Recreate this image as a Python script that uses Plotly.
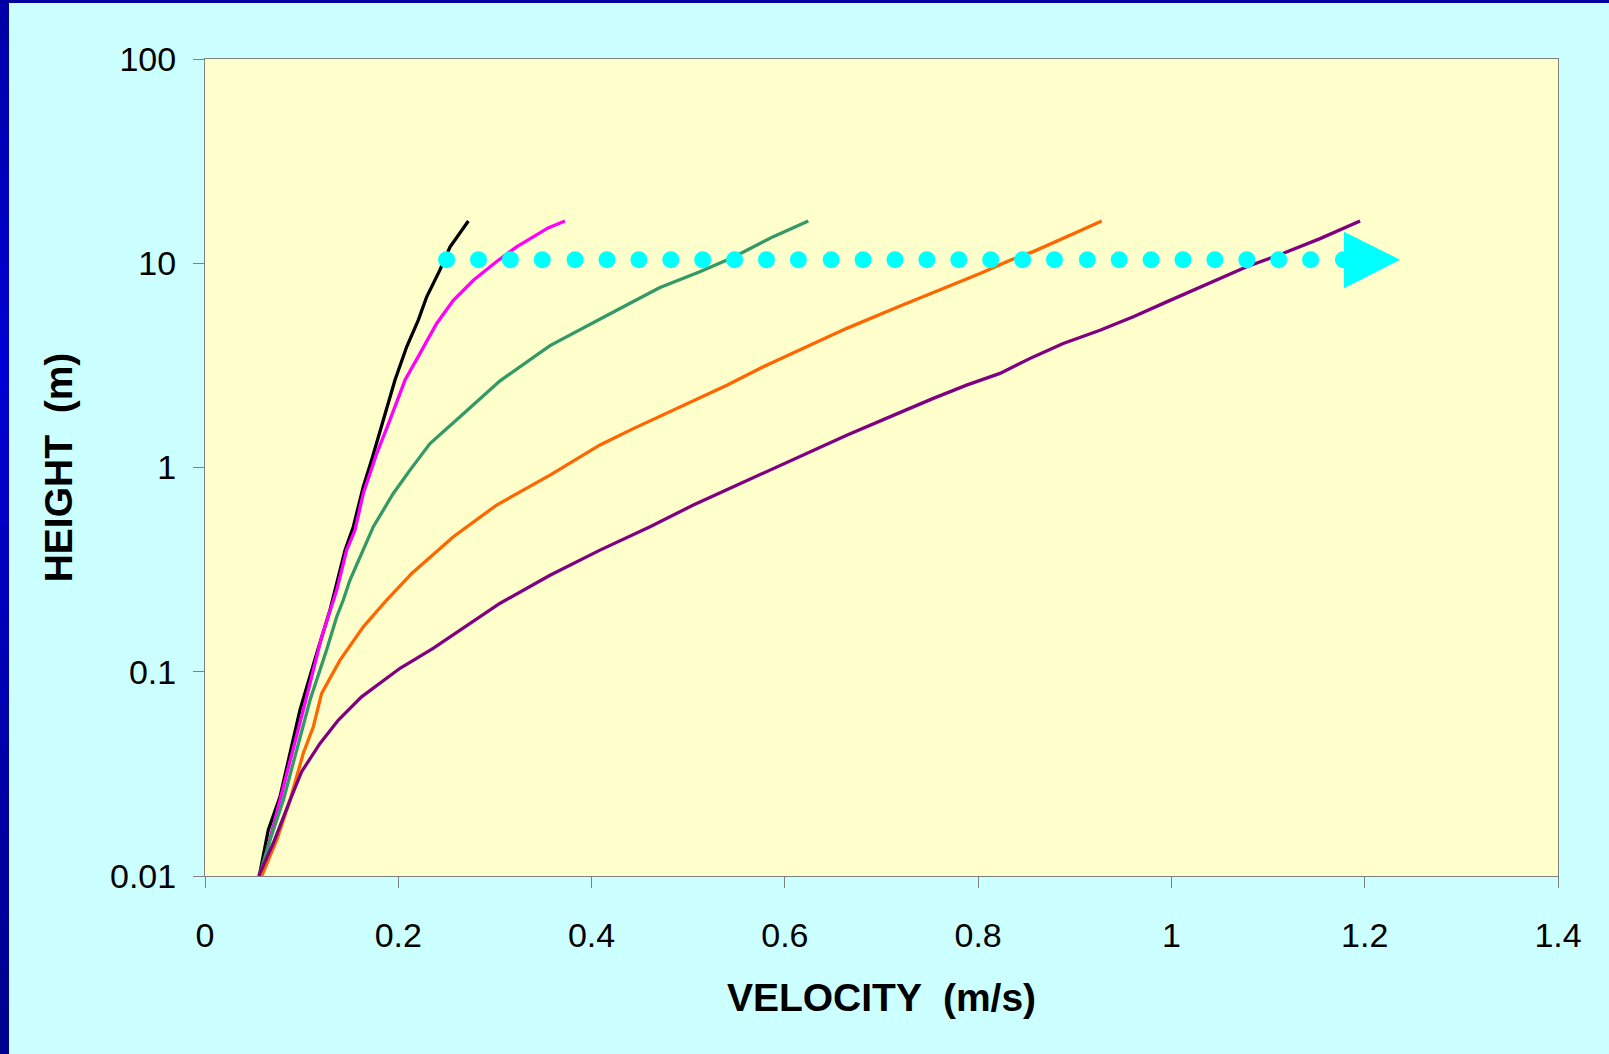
import plotly.graph_objects as go

# ---------------- data ----------------
black_v = [0.0562, 0.0655, 0.0776, 0.0983, 0.1156, 0.1293, 0.1363, 0.1449, 0.1535, 0.1638,
           0.1725, 0.1845, 0.1966, 0.2087, 0.2207, 0.2294, 0.2430, 0.2535, 0.2725]
black_h = [0.010, 0.0168, 0.0244, 0.065, 0.123, 0.200, 0.271, 0.394, 0.513, 0.805,
           1.09, 1.71, 2.68, 3.90, 5.27, 6.85, 9.25, 12.0, 16.1]

magenta_v = [0.0573, 0.0742, 0.0880, 0.1052, 0.1207, 0.1363, 0.1466, 0.1552, 0.1638, 0.1777,
             0.1914, 0.2070, 0.2225, 0.2397, 0.2570, 0.2777, 0.3018, 0.3220, 0.3550, 0.3725]
magenta_h = [0.010, 0.0203, 0.0356, 0.0755, 0.148, 0.251, 0.394, 0.494, 0.746, 1.17,
             1.71, 2.68, 3.62, 5.07, 6.59, 8.26, 10.2, 12.0, 14.9, 16.1]

green_v = [0.0562, 0.0673, 0.0810, 0.0949, 0.1087, 0.1259, 0.1363, 0.1431, 0.1500, 0.1742,
           0.1948, 0.2121, 0.2328, 0.2639, 0.3050, 0.3570, 0.3915, 0.4260, 0.4708, 0.5120,
           0.5467, 0.5880, 0.6243]
green_h = [0.010, 0.015, 0.0235, 0.0414, 0.0727, 0.128, 0.186, 0.2245, 0.281, 0.513,
           0.746, 0.971, 1.31, 1.77, 2.65, 3.95, 4.80, 5.89, 7.61, 9.08,
           10.7, 13.5, 16.1]

orange_v = [0.0587, 0.0742, 0.0880, 0.1017, 0.1121, 0.1207, 0.1397, 0.1570, 0.1638, 0.1880,
            0.2139, 0.2570, 0.3018, 0.3570, 0.4087, 0.4432, 0.4915, 0.5400, 0.5810, 0.6295,
            0.6640, 0.7193, 0.7675, 0.8020, 0.8330, 0.8570, 0.9020, 0.9278]
orange_h = [0.010, 0.015, 0.0235, 0.0399, 0.0538, 0.0783, 0.114, 0.148, 0.166, 0.2245,
            0.303, 0.458, 0.655, 0.918, 1.29, 1.55, 1.98, 2.53, 3.17, 4.05,
            4.80, 6.17, 7.66, 8.91, 10.35, 11.4, 14.2, 16.1]

purple_v = [0.0556, 0.0707, 0.0880, 0.1000, 0.1190, 0.1380, 0.1620, 0.2018, 0.2360, 0.3050,
            0.3570, 0.4087, 0.4605, 0.5053, 0.5467, 0.5810, 0.6157, 0.6640, 0.7122, 0.7536,
            0.7880, 0.8226, 0.8570, 0.8880, 0.9261, 0.9606, 0.9951, 1.0296, 1.0779, 1.1158,
            1.1538, 1.1952]
purple_h = [0.010, 0.0145, 0.0235, 0.0324, 0.0446, 0.058, 0.0754, 0.104, 0.130, 0.216,
            0.297, 0.394, 0.513, 0.655, 0.805, 0.953, 1.13, 1.44, 1.80, 2.18,
            2.53, 2.89, 3.48, 4.05, 4.70, 5.47, 6.47, 7.61, 9.61, 11.2,
            13.2, 16.1]

# dotted arrow (decoration at height ~10 m)
arrow_dots_v = [0.250, 0.283, 0.316, 0.349, 0.383, 0.416, 0.449, 0.482, 0.515, 0.548,
                0.581, 0.614, 0.648, 0.681, 0.714, 0.747, 0.780, 0.813, 0.846, 0.879,
                0.913, 0.946, 0.979, 1.012, 1.045, 1.078, 1.111, 1.144, 1.178]
arrow_h = 10.4
arrow_head_v = [1.1786, 1.2366, 1.1786, 1.1786]
arrow_head_h = [14.28, 10.4, 7.54, 14.28]

x_tickvals = [0, 0.2, 0.4, 0.6, 0.8, 1.0, 1.2, 1.4]
x_ticktext = ["0", "0.2", "0.4", "0.6", "0.8", "1", "1.2", "1.4"]
y_tickvals = [0.01, 0.1, 1, 10, 100]
y_ticktext = ["0.01", "0.1", "1", "10", "100"]

series = [
    ("black", black_v, black_h, "#000000"),
    ("magenta", magenta_v, magenta_h, "#FF00FF"),
    ("green", green_v, green_h, "#339966"),
    ("orange", orange_v, orange_h, "#FF6600"),
    ("purple", purple_v, purple_h, "#800080"),
]

FONT = "Liberation Sans, Arial, sans-serif"

fig = go.Figure()
for name, v, h, col in series:
    fig.add_trace(go.Scatter(x=v, y=h, mode="lines", name=name,
                             line=dict(color=col, width=3.3), showlegend=False,
                             hoverinfo="skip"))

fig.add_trace(go.Scatter(x=arrow_dots_v, y=[arrow_h] * len(arrow_dots_v), mode="markers",
                         marker=dict(color="#00FFFF", size=17, line=dict(width=0)),
                         showlegend=False, hoverinfo="skip"))
fig.add_trace(go.Scatter(x=arrow_head_v, y=arrow_head_h, mode="lines", fill="toself",
                         fillcolor="#00FFFF", line=dict(color="#00FFFF", width=0),
                         showlegend=False, hoverinfo="skip"))

# plot area in pixels: x 205..1558, y 59..876
W, H = 1609, 1054
L, R, T, B = 205, 51, 59, 178
pw = W - L - R
ph = H - T - B

def px(xp):
    return (xp - L) / pw

def py(yp):
    return (H - B - yp) / ph

shapes = []
# dark blue band on the left (vertical gradient approximation)
stops = [(0.0, (0x00, 0x00, 0xA8)), (0.35, (0x00, 0x00, 0xD4)), (1.0, (0x00, 0x00, 0x8C))]
def col_at(t):
    for i in range(len(stops) - 1):
        t0, c0 = stops[i]
        t1, c1 = stops[i + 1]
        if t0 <= t <= t1:
            f = (t - t0) / (t1 - t0)
            return "rgb(%d,%d,%d)" % tuple(round(c0[k] + (c1[k] - c0[k]) * f) for k in range(3))
    return "rgb(0,0,140)"
N = 24
for i in range(N):
    y0p = H * i / N - 1
    y1p = H * (i + 1) / N + 1
    c = col_at((i + 0.5) / N)
    shapes.append(dict(type="rect", xref="paper", yref="paper", layer="below",
                       x0=px(0), x1=px(9), y0=py(y1p), y1=py(y0p),
                       fillcolor=c, line=dict(width=0)))
# thin dark band along the top
shapes.append(dict(type="rect", xref="paper", yref="paper", layer="below",
                   x0=px(0), x1=px(W), y0=py(3), y1=py(0),
                   fillcolor="#0000A0", line=dict(width=0)))

fig.update_layout(
    width=W, height=H,
    margin=dict(l=L, r=R, t=T, b=B, autoexpand=False),
    paper_bgcolor="#CCFFFF",
    plot_bgcolor="#FFFFCC",
    font=dict(family=FONT, color="#000000"),
    shapes=shapes,
    showlegend=False,
    xaxis=dict(
        range=[0, 1.4], tickvals=x_tickvals, ticktext=x_ticktext,
        ticks="outside", ticklen=11, tickcolor="#808080", tickwidth=1,
        showline=True, linecolor="#808080", linewidth=1, mirror=True,
        showgrid=False, zeroline=False,
        tickfont=dict(family=FONT, size=34, color="#000000"),
        ticklabelstandoff=18,
        title=dict(text="VELOCITY  (m/s)", standoff=30,
                   font=dict(family=FONT, size=39, color="#000000", weight="bold")),
        automargin=False,
    ),
    yaxis=dict(
        type="log", range=[-2, 2], tickvals=y_tickvals, ticktext=y_ticktext,
        ticks="outside", ticklen=11, tickcolor="#808080", tickwidth=1,
        showline=True, linecolor="#808080", linewidth=1, mirror=True,
        showgrid=False, zeroline=False,
        tickfont=dict(family=FONT, size=34, color="#000000"),
        ticklabelstandoff=10,
        title=dict(text="HEIGHT  (m)", standoff=25,
                   font=dict(family=FONT, size=39, color="#000000", weight="bold")),
        automargin=False,
    ),
)

fig.write_html("out.html")
